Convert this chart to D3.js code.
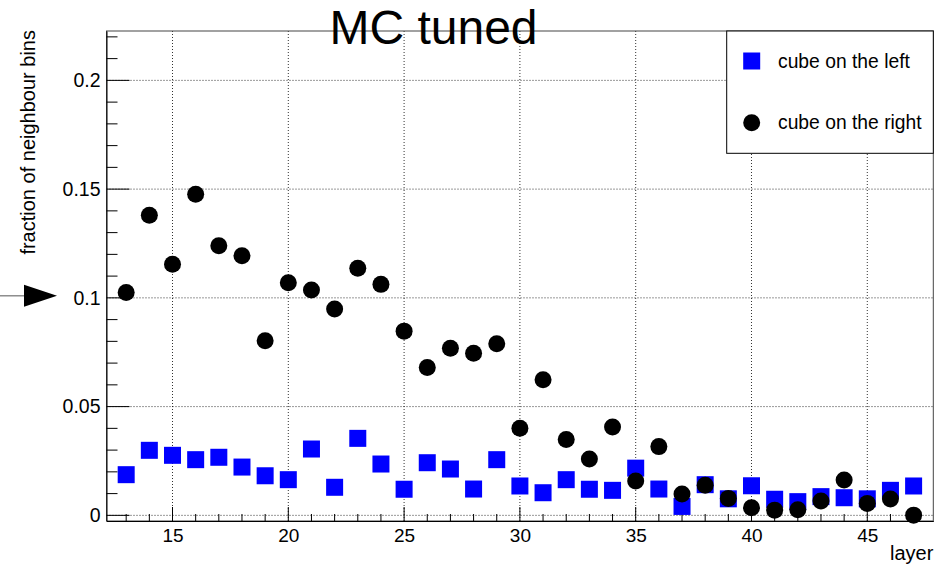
<!DOCTYPE html>
<html>
<head>
<meta charset="utf-8">
<script src="https://cdn.jsdelivr.net/npm/d3@7"></script>
<style>
  html, body { margin: 0; padding: 0; background: #fff; }
  svg { display: block; }
  text { font-family: "Liberation Sans", Arial, Helvetica, sans-serif; fill: #000; }
</style>
</head>
<body>
<svg id="chart" width="951" height="566"></svg>
<script>
// ---- data ----
const layers = [13,14,15,16,17,18,19,20,21,22,23,24,25,26,27,28,29,30,31,32,33,34,35,36,37,38,39,40,41,42,43,44,45,46,47];
const cubeLeft = [0.0187,0.0299,0.0276,0.0256,0.0267,0.0222,0.0182,0.0164,0.0305,0.0129,0.0354,0.0236,0.0120,0.0242,0.0213,0.0121,0.0256,0.0135,0.0104,0.0164,0.0120,0.0115,0.0217,0.0121,0.0041,0.0141,0.0076,0.0136,0.0074,0.0063,0.0086,0.0081,0.0076,0.0115,0.0135];
const cubeRight = [0.1025,0.1380,0.1154,0.1476,0.1240,0.1194,0.0803,0.1069,0.1036,0.0949,0.1136,0.1062,0.0847,0.0680,0.0768,0.0745,0.0789,0.0400,0.0623,0.0349,0.0259,0.0406,0.0158,0.0316,0.0098,0.0138,0.0078,0.0035,0.0024,0.0026,0.0066,0.0162,0.0055,0.0075,0.0001];
const xTicks = [15,20,25,30,35,40,45];
const yTicks = [0,0.05,0.1,0.15,0.2];
const yTickLabels = ["0","0.05","0.1","0.15","0.2"];
const seriesNames = ["cube on the left","cube on the right"];
const titleText = "MC tuned";
const xTitle = "layer";
const yTitle = "fraction of neighbour bins";

// ---- layout ----
const svg = d3.select("#chart");
const L = 106.5, R = 933.3, T = 31, B = 521;
const x = d3.scaleLinear().domain([12.15, 47.85]).range([L, R]);
const y = d3.scaleLinear().domain([-0.0026, 0.2227]).range([B, T]);

// grid
const grid = svg.append("g");
grid.selectAll("line.gx").data(xTicks).join("line")
  .attr("x1", d => x(d)).attr("x2", d => x(d)).attr("y1", T).attr("y2", B)
  .attr("stroke", "#000").attr("stroke-width", 1).attr("stroke-dasharray", "1,2").attr("opacity", 0.8);
grid.selectAll("line.gy").data(yTicks).join("line")
  .attr("y1", d => y(d)).attr("y2", d => y(d)).attr("x1", L).attr("x2", R)
  .attr("stroke", "#000").attr("stroke-width", 1).attr("stroke-dasharray", "1,2").attr("opacity", 0.8);

// frame
svg.append("rect").attr("x", L).attr("y", T).attr("width", R - L).attr("height", B - T)
  .attr("fill", "none").attr("stroke", "#444").attr("stroke-width", 1);

// x axis
const xMinor = d3.range(13, 48);
const xAxis = d3.axisBottom(x).tickValues(xTicks).tickSize(0).tickPadding(8).tickFormat(d3.format("d"));
const gx = svg.append("g").attr("transform", `translate(0,${B})`).call(xAxis);
gx.select(".domain").attr("stroke", "#000");
gx.selectAll("text").attr("font-size", 19).attr("font-family", "Liberation Sans, Arial, sans-serif");
svg.append("g").selectAll("line").data(xMinor).join("line")
  .attr("x1", d => x(d)).attr("x2", d => x(d))
  .attr("y1", B).attr("y2", d => B - (d % 5 === 0 ? 14 : 7))
  .attr("stroke", "#000").attr("stroke-width", 1);

// y axis
const yMinor = d3.range(0, 23).map(i => i / 100);
const yAxis = d3.axisLeft(y).tickValues(yTicks).tickSize(0).tickPadding(6)
  .tickFormat((d, i) => yTickLabels[i]);
const gy = svg.append("g").attr("transform", `translate(${L},0)`).call(yAxis);
gy.select(".domain").attr("stroke", "#000");
gy.selectAll("text").attr("font-size", 19.5).attr("font-family", "Liberation Sans, Arial, sans-serif");
svg.append("g").selectAll("line").data(yMinor).join("line")
  .attr("y1", d => y(d)).attr("y2", d => y(d))
  .attr("x1", L).attr("x2", (d, i) => L + (i % 5 === 0 ? 23 : 11))
  .attr("stroke", "#000").attr("stroke-width", 1);

// markers
const msize = 17;
svg.append("g").selectAll("rect").data(layers).join("rect")
  .attr("x", (d) => x(d) - msize / 2)
  .attr("y", (d, i) => y(cubeLeft[i]) - msize / 2)
  .attr("width", msize).attr("height", msize)
  .attr("fill", "#0000ff");
svg.append("g").selectAll("circle").data(layers).join("circle")
  .attr("cx", d => x(d))
  .attr("cy", (d, i) => y(cubeRight[i]))
  .attr("r", msize / 2)
  .attr("fill", "#000");

// title
svg.append("text").attr("x", 433.5).attr("y", 44).attr("text-anchor", "middle")
  .attr("font-size", 48).text(titleText);

// axis titles
svg.append("text").attr("x", R).attr("y", 560).attr("text-anchor", "end")
  .attr("font-size", 20).text(xTitle);
svg.append("text").attr("transform", `translate(35,${T - 1}) rotate(-90)`).attr("text-anchor", "end")
  .attr("font-size", 20).text(yTitle);

// legend
const lg = svg.append("g");
lg.append("rect").attr("x", 726.7).attr("y", T).attr("width", R - 726.7).attr("height", 153.3 - T)
  .attr("fill", "#fff").attr("stroke", "#000").attr("stroke-width", 1);
lg.append("rect").attr("x", 751.7 - msize / 2).attr("y", 61 - msize / 2).attr("width", msize).attr("height", msize).attr("fill", "#0000ff");
lg.append("circle").attr("cx", 751.7).attr("cy", 122.7).attr("r", msize / 2).attr("fill", "#000");
lg.append("text").attr("x", 778).attr("y", 61).attr("dy", "0.35em").attr("font-size", 19.3).text(seriesNames[0]);
lg.append("text").attr("x", 778).attr("y", 122.7).attr("dy", "0.35em").attr("font-size", 19.3).text(seriesNames[1]);

// arrow annotation pointing at y = 0.1
const ay = y(0.1) - 2;
svg.append("line").attr("x1", 0).attr("x2", 25).attr("y1", ay).attr("y2", ay).attr("stroke", "#555").attr("stroke-width", 1);
svg.append("path").attr("d", `M24,${ay - 11} L57,${ay} L24,${ay + 11} Z`).attr("fill", "#000");
</script>
</body>
</html>
